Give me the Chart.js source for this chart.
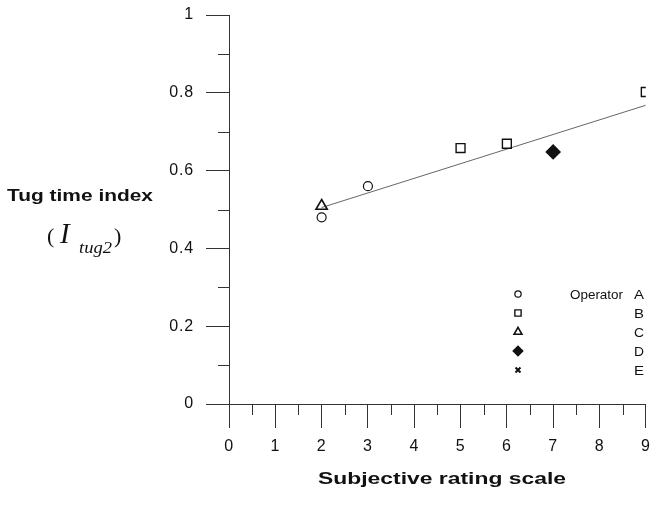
<!DOCTYPE html>
<html>
<head>
<meta charset="utf-8">
<script src="https://cdn.jsdelivr.net/npm/chart.js@4/dist/chart.umd.min.js"></script>
<style>
  html, body { margin: 0; padding: 0; background: #fff; }
  #wrap { width: 654px; height: 520px; }
</style>
</head>
<body>
<div id="wrap"><canvas id="chart" width="654" height="520"></canvas></div>
<script>
// Operator data (subjective rating vs tug time index)
const opAx = [2, 3];
const opAy = [0.48, 0.56];
const opBx = [5, 6, 9];
const opBy = [0.658, 0.669, 0.802];
const opCx = [2];
const opCy = [0.509];
const opDx = [7];
const opDy = [0.648];
const opEx = [7];
const opEy = [0.648];

// regression line end points
const fitX = [2, 9];
const fitY = [0.505, 0.768];

const operators = ['A', 'B', 'C', 'D', 'E'];
const xTicks = [0, 1, 2, 3, 4, 5, 6, 7, 8, 9];
const yTicks = [0, 0.2, 0.4, 0.6, 0.8, 1];
const xMinor = [0.5, 1.5, 2.5, 3.5, 4.5, 5.5, 6.5, 7.5, 8.5];
const yMinor = [0.1, 0.3, 0.5, 0.7, 0.9];

const pts = (xs, ys) => xs.map((x, i) => ({ x: x, y: ys[i] }));

const INK = '#111';
const SANS = '"Liberation Sans", Arial, sans-serif';
const SERIF = '"Liberation Serif", "Times New Roman", serif';

// text stretched horizontally so it spans the given width
function wideText(ctx, text, x, y, width) {
  ctx.letterSpacing = '0px';
  const w = ctx.measureText(text).width;
  ctx.save();
  ctx.translate(x, y);
  ctx.scale(width / w, 1);
  ctx.fillText(text, 0, 0);
  ctx.restore();
}

const extras = {
  id: 'extras',
  beforeDraw(chart) {
    chart.ctx.letterSpacing = '0.8px';
  },
  afterDraw(chart) {
    const ctx = chart.ctx;
    const xs = chart.scales.x, ys = chart.scales.y;
    ctx.save();
    ctx.letterSpacing = '0px';
    ctx.strokeStyle = '#333';
    ctx.lineWidth = 1;
    // minor ticks
    ctx.beginPath();
    xMinor.forEach(v => {
      const px = Math.round(xs.getPixelForValue(v)) + 0.5;
      ctx.moveTo(px, ys.bottom);
      ctx.lineTo(px, ys.bottom + 11);
    });
    yMinor.forEach(v => {
      const py = Math.round(ys.getPixelForValue(v)) + 0.5;
      ctx.moveTo(xs.left - 11, py);
      ctx.lineTo(xs.left, py);
    });
    ctx.stroke();

    // axis titles
    ctx.fillStyle = INK;
    ctx.textBaseline = 'alphabetic';
    ctx.textAlign = 'left';
    ctx.font = 'bold 17px ' + SANS;
    wideText(ctx, 'Tug time index', 7, 201, 146);
    wideText(ctx, 'Subjective rating scale', 318, 484, 248);

    ctx.font = '22px ' + SERIF;
    ctx.fillText('(', 47, 243);
    ctx.font = 'italic 29px ' + SERIF;
    ctx.fillText('I', 60, 243);
    ctx.font = 'italic 17px ' + SERIF;
    wideText(ctx, 'tug2', 79, 253, 33);
    ctx.font = '22px ' + SERIF;
    ctx.fillText(')', 114, 243);

    // legend
    const rowY = [294, 313, 332, 351, 370];
    const styles = chart.data.datasets.slice(0, 5);
    ctx.font = '13px ' + SANS;
    ctx.textBaseline = 'middle';
    styles.forEach((ds, i) => {
      const o = {
        pointStyle: ds.pointStyle,
        radius: ds.pointRadius * 0.7,
        rotation: 0,
        borderWidth: ds.borderWidth
      };
      ctx.strokeStyle = ds.borderColor;
      ctx.fillStyle = ds.backgroundColor;
      ctx.lineWidth = ds.borderWidth;
      Chart.helpers.drawPoint(ctx, o, 518, rowY[i]);
      ctx.fillStyle = INK;
      if (i === 0) wideText(ctx, 'Operator', 570, rowY[i] + 1, 53);
      wideText(ctx, operators[i], 634, rowY[i] + 1, 10);
    });
    ctx.restore();
  }
};

const marker = (style, r, fill, bw) => ({
  pointStyle: style,
  pointRadius: r,
  borderColor: INK,
  backgroundColor: fill,
  borderWidth: bw,
  showLine: false,
  order: 1
});

new Chart(document.getElementById('chart').getContext('2d'), {
  type: 'scatter',
  data: {
    datasets: [
      Object.assign({ label: 'Operator ' + operators[0], data: pts(opAx, opAy) }, marker('circle', 4.5, 'rgba(255,255,255,0)', 1.2)),
      Object.assign({ label: 'Operator ' + operators[1], data: pts(opBx, opBy) }, marker('rect', 6.3, 'rgba(255,255,255,0)', 1.4)),
      Object.assign({ label: 'Operator ' + operators[2], data: pts(opCx, opCy) }, marker('triangle', 6.5, 'rgba(255,255,255,0)', 1.6)),
      Object.assign({ label: 'Operator ' + operators[3], data: pts(opDx, opDy) }, marker('rectRot', 7, INK, 1.2)),
      Object.assign({ label: 'Operator ' + operators[4], data: pts(opEx, opEy) }, marker('crossRot', 5, INK, 2)),
      {
        label: 'fit',
        data: pts(fitX, fitY),
        showLine: true,
        borderColor: '#666',
        borderWidth: 1,
        pointRadius: 0,
        order: 2
      }
    ]
  },
  options: {
    responsive: false,
    animation: false,
    events: [],
    layout: { padding: { left: 0, right: 4, top: 15, bottom: 0 } },
    plugins: {
      legend: { display: false },
      tooltip: { enabled: false }
    },
    scales: {
      x: {
        type: 'linear',
        min: 0,
        max: 9,
        afterFit(s) { s.height = 116; s.paddingRight = 0; s.paddingLeft = 0; },
        afterBuildTicks(s) { s.ticks = xTicks.map(v => ({ value: v })); },
        ticks: { color: INK, padding: 9, font: { family: SANS, size: 16 } },
        grid: { drawOnChartArea: false, tickLength: 24, color: '#333', tickWidth: 1 },
        border: { color: '#333', width: 1 }
      },
      y: {
        type: 'linear',
        min: 0,
        max: 1,
        afterFit(s) { s.width = 229; s.paddingTop = 0; s.paddingBottom = 0; },
        afterBuildTicks(s) { s.ticks = yTicks.map(v => ({ value: v })); },
        ticks: {
          color: INK, padding: 12, font: { family: SANS, size: 16 },
          callback: v => String(Math.round(v * 10) / 10)
        },
        grid: { drawOnChartArea: false, tickLength: 23, color: '#333', tickWidth: 1 },
        border: { color: '#333', width: 1 }
      }
    }
  },
  plugins: [extras]
});
</script>
</body>
</html>
